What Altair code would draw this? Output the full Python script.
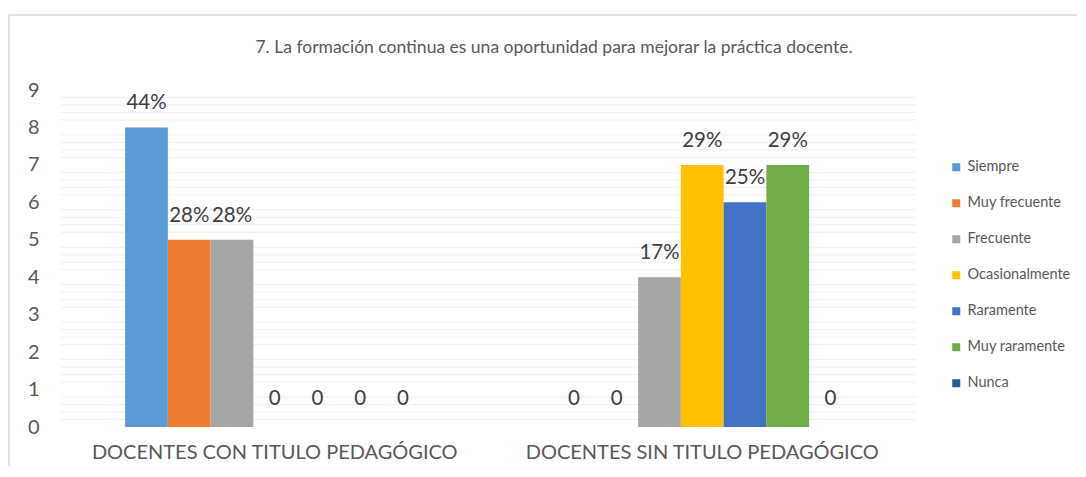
import altair as alt
import pandas as pd

categories = ["DOCENTES CON TITULO PEDAGÓGICO", "DOCENTES SIN TITULO PEDAGÓGICO"]
series = ["Siempre", "Muy frecuente", "Frecuente", "Ocasionalmente", "Raramente", "Muy raramente", "Nunca"]
colors = ["#5B9BD5", "#ED7D31", "#A5A5A5", "#FFC000", "#4472C4", "#70AD47", "#255E91"]
con_values = [8, 5, 5, 0, 0, 0, 0]
sin_values = [0, 0, 4, 7, 6, 7, 0]
con_labels = ["44%", "28%", "28%", "0", "0", "0", "0"]
sin_labels = ["0", "0", "17%", "29%", "25%", "29%", "0"]
y_ticks = [0, 1, 2, 3, 4, 5, 6, 7, 8, 9]
minor_grid = [round(i * 0.2, 1) for i in range(46) if i % 5]

title = "7. La formación continua es una oportunidad para mejorar  la práctica docente."
FONT = "Lato"
W, H = 855, 337

rows = []
for cat, vals, labs in [(categories[0], con_values, con_labels), (categories[1], sin_values, sin_labels)]:
    for s, v, l in zip(series, vals, labs):
        rows.append({"grupo": cat, "serie": s, "valor": v, "etiqueta": l})
df = pd.DataFrame(rows)

x_axis = alt.Axis(labelFontSize=20, labelColor="#595959", labelFont=FONT, labelLimit=0,
                  ticks=False, domain=False, labelPadding=15, labelAngle=0, grid=False, title=None)
x_scale = alt.Scale(paddingInner=0.3, paddingOuter=0.15)
y_scale = alt.Scale(domain=[0, 9], nice=False)
y_axis = alt.Axis(values=y_ticks, orient="left", labelFontSize=20, labelColor="#595959", labelFont=FONT,
                  ticks=False, domain=False, labelPadding=22, labelOverlap=False,
                  gridColor="#d9d9d9", gridWidth=1.5, title=None)

minor = alt.Chart(pd.DataFrame({"g": minor_grid})).mark_rule(color="#efefef", strokeWidth=1).encode(
    y=alt.Y("g:Q", scale=y_scale, axis=None)
)

bars = alt.Chart(df).mark_bar().encode(
    x=alt.X("grupo:N", sort=categories, title=None, scale=x_scale, axis=x_axis),
    xOffset=alt.XOffset("serie:N", sort=series, scale=alt.Scale(paddingInner=0, paddingOuter=0)),
    y=alt.Y("valor:Q", scale=y_scale, title=None, axis=y_axis),
    color=alt.Color("serie:N", sort=series, scale=alt.Scale(domain=series, range=colors),
                    legend=alt.Legend(title=None, orient="none", legendX=888, legendY=70,
                                      symbolType="square", symbolSize=64, symbolStrokeWidth=0,
                                      labelFontSize=14.5, labelColor="#595959", labelFont=FONT,
                                      rowPadding=21, labelOffset=4)),
)


def label_layer(cond, dy):
    return alt.Chart(df).transform_filter(cond).mark_text(
        baseline="bottom", dy=dy, fontSize=20.5, color="#404040", font=FONT
    ).encode(
        x=alt.X("grupo:N", sort=categories, title=None, scale=x_scale, axis=None),
        xOffset=alt.XOffset("serie:N", sort=series),
        y=alt.Y("valor:Q", scale=y_scale, title=None, axis=None),
        text="etiqueta:N",
    )


texts_pos = label_layer("datum.valor > 0", -14)
texts_zero = label_layer("datum.valor == 0", -18)

single = alt.Data(values=[{"a": 1}])
title_mark = alt.Chart(single).mark_text(fontSize=17.5, color="#595959", font=FONT, align="center",
                                         baseline="middle").encode(
    x=alt.value(493), y=alt.value(-42), text=alt.value(title)
)
left_border = alt.Chart(single).mark_rule(color="#d9d9d9", strokeWidth=1.5).encode(
    x=alt.value(-52), y=alt.value(-75), y2=alt.value(376)
)
top_border = alt.Chart(single).mark_rule(color="#d9d9d9", strokeWidth=1.5).encode(
    x=alt.value(-52), x2=alt.value(1016), y=alt.value(-75)
)

chart = alt.layer(minor, bars, texts_pos, texts_zero, title_mark, left_border, top_border).resolve_axis(
    y="independent", x="independent"
).properties(
    width=W, height=H,
    padding={"top": 6, "left": 0, "right": 0, "bottom": 0},
).configure_view(stroke=None).configure_axis(labelFont=FONT)

chart.save("out.html", embed_options={"renderer": "svg", "actions": False})
